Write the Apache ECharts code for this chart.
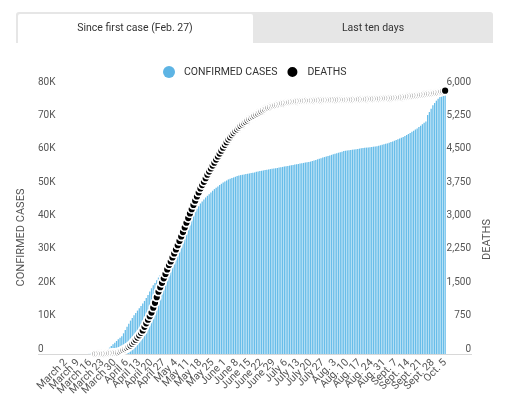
<!DOCTYPE html>
<html><head><meta charset="utf-8">
<script src="https://cdn.jsdelivr.net/npm/echarts@6/dist/echarts.min.js"></script>
<style>html,body{margin:0;padding:0;background:#fff}#c{width:509px;height:408px}</style>
</head><body><div id="c"></div>
<script>
// ---- data ----
const firstDay = '2020-02-27';
const dayCount = 222;
const monthNames = ['Jan.', 'Feb.', 'March', 'April', 'May', 'June', 'July', 'Aug.', 'Sept.', 'Oct.', 'Nov.', 'Dec.'];
const tickLabels = ['March 2', 'March 9', 'March 16', 'March 23', 'March 30', 'April 6', 'April 13', 'April 20', 'April 27',
  'May 4', 'May 11', 'May 18', 'May 25', 'June 1', 'June 8', 'June 15', 'June 22', 'June 29', 'July 6', 'July 13',
  'July 20', 'July 27', 'Aug. 3', 'Aug. 10', 'Aug. 17', 'Aug. 24', 'Aug. 31', 'Sept. 7', 'Sept. 14', 'Sept. 21',
  'Sept. 28', 'Oct. 5'];
const tabLabels = ['Since first case (Feb. 27)', 'Last ten days'];
const seriesNames = ['CONFIRMED CASES', 'DEATHS'];

const confirmedCases = [
  1, 1, 1, 1, 1, 1, 2, 2, 2, 3, 3, 4, 4, 7,
  9, 13, 17, 24, 39, 50, 74, 94, 121, 160, 220,
  600, 900, 1200, 1500, 1900, 2400, 2900, 3400, 3900, 4400, 4900,
  5300, 6200, 7200, 8200, 9100, 10000, 10800, 11600, 12300, 13000,
  13700, 14400, 15100, 15900, 16800, 17700, 18700, 19700, 20600, 21300,
  22100, 22900, 23700, 24500, 25400, 26500, 27700, 28900, 30100, 31300,
  32500, 33700, 34800, 35700, 36500, 37300, 38000, 38700, 39300, 40000,
  40900, 41800, 42700, 43500, 44300, 45100, 45700, 46300, 46900, 47400,
  47900, 48400, 48900, 49400, 49800, 50200, 50600, 51000, 51400, 51700,
  52000, 52300, 52500, 52700, 52900, 53100, 53300, 53500, 53600, 53700,
  53800, 53900, 54000, 54100, 54200, 54300, 54400, 54600, 54700, 54800,
  54900, 55000, 55100, 55200, 55300, 55400, 55500, 55550, 55650, 55750,
  55850, 55950, 56050, 56150, 56250, 56350, 56450, 56550, 56650, 56750,
  56850, 56950, 57050, 57150, 57250, 57350, 57450, 57550, 57650, 57820,
  57990, 58160, 58330, 58500, 58670, 58840, 59010, 59180, 59350, 59510,
  59670, 59830, 59990, 60150, 60310, 60470, 60630, 60790, 60900, 60980,
  61060, 61140, 61220, 61300, 61380, 61460, 61540, 61620, 61700, 61770,
  61840, 61910, 61980, 62050, 62120, 62190, 62260, 62400, 62540, 62680,
  62820, 62960, 63100, 63300, 63500, 63700, 63900, 64100, 64330, 64560,
  64800, 65050, 65300, 65600, 65920, 66250, 66580, 66920, 67260, 67600,
  68000, 68400, 68850, 69300, 69700, 71600, 72500, 73500, 74500, 75200,
  75900, 76500, 77000, 77300, 77500, 77700
];

const deathsFirstDay = 'March 19';
const deaths = [
  1, 1, 3, 4, 5, 6, 8, 10, 15, 20,
  22, 25, 30, 35, 50, 70, 90, 110, 135, 160,
  190, 230, 275, 320, 370, 420, 475, 530, 610, 690,
  770, 850, 930, 1040, 1150, 1275, 1400, 1500, 1600, 1700,
  1800, 1900, 2000, 2080, 2170, 2260, 2350, 2445, 2540, 2640,
  2740, 2845, 2950, 3055, 3160, 3255, 3350, 3445, 3540, 3630,
  3720, 3795, 3870, 3950, 4030, 4100, 4170, 4235, 4300, 4370,
  4440, 4505, 4570, 4635, 4700, 4760, 4820, 4870, 4920, 4965,
  5010, 5050, 5090, 5125, 5160, 5190, 5220, 5250, 5280, 5305,
  5330, 5355, 5380, 5405, 5430, 5455, 5480, 5500, 5520, 5535,
  5550, 5565, 5580, 5590, 5600, 5610, 5620, 5630, 5637, 5643,
  5650, 5657, 5663, 5670, 5674, 5678, 5682, 5685, 5687, 5689,
  5690, 5692, 5693, 5695, 5696, 5697, 5699, 5700, 5701, 5703,
  5705, 5706, 5706, 5707, 5708, 5708, 5709, 5709, 5710, 5710,
  5711, 5711, 5712, 5712, 5713, 5713, 5714, 5715, 5716, 5717,
  5718, 5720, 5721, 5722, 5724, 5725, 5727, 5728, 5730, 5731,
  5733, 5735, 5736, 5738, 5740, 5741, 5743, 5745, 5747, 5750,
  5752, 5755, 5757, 5760, 5764, 5768, 5772, 5776, 5780, 5785,
  5790, 5795, 5800, 5805, 5810, 5815, 5820, 5825, 5830, 5835,
  5840, 5846, 5852, 5858, 5864, 5870, 5878, 5887, 5897, 5907,
  5917
];

const casesAxis = { min: 0, max: 80000, interval: 10000 };
const deathsAxis = { min: 0, max: 6000, interval: 750 };

// ---- build categories (daily dates) ----
const categories = [];
(function () {
  const p = firstDay.split('-').map(Number);
  const d = new Date(p[0], p[1] - 1, p[2]);
  for (let i = 0; i < dayCount; i++) {
    categories.push(monthNames[d.getMonth()] + ' ' + d.getDate());
    d.setDate(d.getDate() + 1);
  }
})();
const deathStartIdx = categories.indexOf(deathsFirstDay);
const deathsData = categories.map((c, i) => {
  const k = i - deathStartIdx;
  return (k >= 0 && k < deaths.length) ? deaths[k] : '-';
});

const FONT = 'Roboto, "Noto Sans", sans-serif';
const chart = echarts.init(document.getElementById('c'), null, { renderer: 'canvas' });
const gridTop = 87, gridBottom = 54, gridLeft = 58, gridRight = 63;

// two overlaid label axes (alternating weekly labels) so no label is dropped
function labelAxis(parity) {
  return {
    type: 'category',
    data: categories,
    position: 'bottom',
    boundaryGap: true,
    axisLine: { show: false },
    axisTick: { show: false },
    splitLine: { show: false },
    axisLabel: {
      interval: (idx, val) => {
        const k = tickLabels.indexOf(val);
        return k >= 0 && k % 2 === parity;
      },
      showMinLabel: true, showMaxLabel: true, hideOverlap: false,
      rotate: 45, margin: 7,
      color: '#555', fontSize: 10.5, fontFamily: FONT
    }
  };
}

chart.setOption({
  animation: false,
  textStyle: { fontFamily: FONT },
  graphic: [
    { type: 'rect', shape: { x: 16, y: 12, width: 477, height: 31, r: [3, 3, 0, 0] }, style: { fill: '#e6e6e6' }, silent: true },
    { type: 'rect', shape: { x: 18, y: 14, width: 235, height: 29, r: [2, 2, 0, 0] }, style: { fill: '#ffffff' }, silent: true },
    { type: 'text', x: 135, y: 28, style: { text: tabLabels[0], fill: '#333', font: '10.5px ' + FONT, textAlign: 'center', textVerticalAlign: 'middle' }, silent: true },
    { type: 'text', x: 373, y: 28, style: { text: tabLabels[1], fill: '#333', font: '10.5px ' + FONT, textAlign: 'center', textVerticalAlign: 'middle' }, silent: true },
    { type: 'line', shape: { x1: 38, y1: 354.5, x2: 472, y2: 354.5 }, style: { stroke: '#d8d8d8', lineWidth: 1 }, silent: true, z: 1 }
  ],
  legend: {
    left: 158, top: 60,
    itemWidth: 12, itemHeight: 12, itemGap: 8,
    textStyle: { color: '#333', fontSize: 10.5, fontFamily: FONT, padding: [0, 0, 0, 4] },
    data: [
      { name: seriesNames[0], icon: 'circle', itemStyle: { color: '#5db4e4' } },
      { name: seriesNames[1], icon: 'circle', itemStyle: { color: '#000' } }
    ]
  },
  grid: { left: gridLeft, right: gridRight, top: gridTop, bottom: gridBottom, containLabel: false },
  xAxis: [labelAxis(0), labelAxis(1)],
  yAxis: [
    {
      type: 'value', min: casesAxis.min, max: casesAxis.max, interval: casesAxis.interval,
      name: seriesNames[0], nameLocation: 'middle', nameRotate: 90, nameGap: 30,
      nameTextStyle: { color: '#555', fontSize: 11, fontFamily: FONT, padding: [0, 34, 0, 0] },
      axisLine: { show: false }, axisTick: { show: false }, splitLine: { show: false },
      axisLabel: {
        margin: 20, align: 'left', verticalAlign: 'bottom',
        color: '#555', fontSize: 10, fontFamily: FONT,
        formatter: v => v === 0 ? '0' : (v / 1000) + 'K'
      }
    },
    {
      type: 'value', min: deathsAxis.min, max: deathsAxis.max, interval: deathsAxis.interval,
      name: seriesNames[1], nameLocation: 'middle', nameRotate: 90, nameGap: 35,
      nameTextStyle: { color: '#555', fontSize: 11, fontFamily: FONT, padding: [0, 38, 0, 0] },
      axisLine: { show: false }, axisTick: { show: false }, splitLine: { show: false },
      axisLabel: {
        margin: 25, align: 'right', verticalAlign: 'bottom',
        color: '#555', fontSize: 10, fontFamily: FONT,
        formatter: v => v.toLocaleString('en-US')
      }
    }
  ],
  series: [
    {
      name: seriesNames[0], type: 'bar', xAxisIndex: 0, yAxisIndex: 0,
      data: confirmedCases,
      barCategoryGap: '25%',
      itemStyle: { color: '#68bde9' },
      z: 2
    },
    {
      name: seriesNames[1], type: 'scatter', xAxisIndex: 0, yAxisIndex: 1,
      data: deathsData,
      symbol: 'circle', symbolSize: 8,
      itemStyle: { color: '#000', borderColor: '#fff', borderWidth: 1.8, opacity: 1 },
      z: 3
    }
  ]
});
</script>
</body></html>
